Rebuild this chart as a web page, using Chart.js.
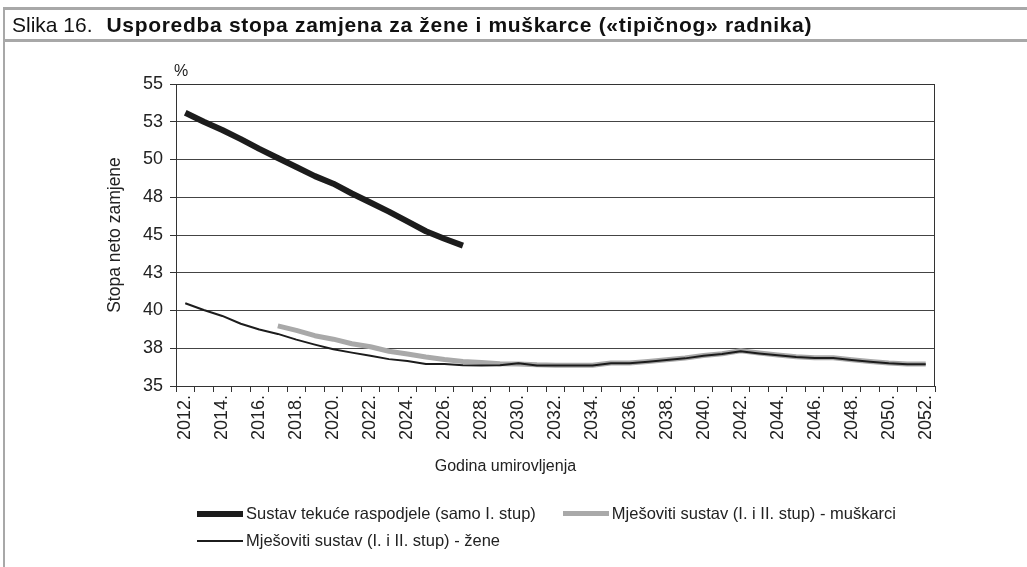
<!DOCTYPE html>
<html>
<head>
<meta charset="utf-8">
<script src="https://cdn.jsdelivr.net/npm/chart.js@4.4.0/dist/chart.umd.min.js"></script>
<style>
  body { margin: 0; background: #fff; font-family: "Liberation Sans", Arial, sans-serif; }
  #wrap { position: relative; width: 1027px; height: 567px; overflow: hidden; }
  #chart { position: absolute; left: 0; top: 0; }
  .rule { position: absolute; background: #a8a8a8; }
  #title { position: absolute; left: 12px; top: 13px; font-size: 21px; color: #111; white-space: nowrap; }
  #title b { letter-spacing: 0.7px; margin-left: 8px; }
  #legend { position: absolute; left: 197px; top: 500px; width: 730px; display: flex; flex-wrap: wrap;
            font-size: 16.5px; line-height: 27px; color: #222; }
  .item { display: flex; align-items: center; margin-right: 27px; }
  .swatch { width: 46px; margin-right: 3px; }
</style>
</head>
<body>
<div id="wrap">
  <canvas id="chart" width="1027" height="567"></canvas>
  <div class="rule" style="left:3px;top:7px;right:0;height:3px"></div>
  <div class="rule" style="left:3px;top:39px;right:0;height:3px"></div>
  <div class="rule" style="left:3px;top:7px;width:2px;bottom:0"></div>
  <div id="title">Slika 16. <b>Usporedba stopa zamjena za žene i muškarce («tipičnog» radnika)</b></div>
  <div id="legend"></div>
</div>
<script>
const years = [
  "2012", "2013", "2014", "2015", "2016", "2017", "2018", "2019", "2020", "2021",
  "2022", "2023", "2024", "2025", "2026", "2027", "2028", "2029", "2030", "2031",
  "2032", "2033", "2034", "2035", "2036", "2037", "2038", "2039", "2040", "2041",
  "2042", "2043", "2044", "2045", "2046", "2047", "2048", "2049", "2050", "2051", "2052"
];

// Sustav tekuće raspodjele (samo I. stup)
const paygRate = [
  53.1, 52.5, 51.95, 51.35, 50.7, 50.1, 49.5, 48.9, 48.4, 47.75,
  47.15, 46.55, 45.9, 45.25, 44.75, 44.3, null, null, null, null,
  null, null, null, null, null, null, null, null, null, null,
  null, null, null, null, null, null, null, null, null, null, null
];

// Mješoviti sustav (I. i II. stup) - muškarci
const mixedMen = [
  null, null, null, null, null, 38.98, 38.68, 38.33, 38.1, 37.8,
  37.6, 37.3, 37.12, 36.92, 36.75, 36.62, 36.55, 36.48, 36.46, 36.4,
  36.37, 36.37, 36.38, 36.52, 36.52, 36.62, 36.74, 36.85, 37.02, 37.14,
  37.33, 37.18, 37.05, 36.94, 36.87, 36.87, 36.74, 36.62, 36.52, 36.46, 36.46
];

// Mješoviti sustav (I. i II. stup) - žene
const mixedWomen = [
  40.48, 40.03, 39.64, 39.12, 38.74, 38.45, 38.07, 37.74, 37.43, 37.21,
  37.0, 36.78, 36.65, 36.46, 36.45, 36.37, 36.36, 36.37, 36.5, 36.35,
  36.35, 36.35, 36.36, 36.5, 36.5, 36.6, 36.72, 36.83, 37.0, 37.12,
  37.3, 37.16, 37.03, 36.92, 36.85, 36.85, 36.72, 36.6, 36.5, 36.44, 36.44
];

const yTickValues = [35, 37.5, 40, 42.5, 45, 47.5, 50, 52.5, 55];
const yTickLabels = ["35", "38", "40", "43", "45", "48", "50", "53", "55"];

const FONT = '"Liberation Sans", Arial, sans-serif';

// okvir grafa, postotak i naslov x osi
const extras = {
  id: "extras",
  beforeDatasetsDraw(chart) {
    const { ctx, chartArea: a } = chart;
    const top = Math.round(a.top) + 0.5;
    const right = Math.round(a.right) - 0.5;
    ctx.save();
    ctx.strokeStyle = "#333";
    ctx.lineWidth = 1;
    ctx.beginPath();
    ctx.moveTo(a.left, top);
    ctx.lineTo(right, top);
    ctx.lineTo(right, a.bottom);
    ctx.stroke();
    ctx.restore();
  },
  afterDraw(chart) {
    const { ctx, chartArea: a } = chart;
    ctx.save();
    ctx.fillStyle = "#222";
    ctx.font = "16px " + FONT;
    ctx.textAlign = "center";
    ctx.textBaseline = "middle";
    ctx.fillText("%", a.left + 5, a.top - 12);
    ctx.fillText("Godina umirovljenja", a.left + (a.right - a.left) * 0.434, a.bottom + 81);
    ctx.restore();
  }
};

const chart = new Chart(document.getElementById("chart"), {
  type: "line",
  data: {
    labels: years,
    datasets: [
      { label: "Sustav tekuće raspodjele (samo I. stup)", data: paygRate,
        borderColor: "#1c1c1c", borderWidth: 6, order: 0 },
      { label: "Mješoviti sustav (I. i II. stup) - muškarci", data: mixedMen,
        borderColor: "#a9a9a9", borderWidth: 5, order: 2 },
      { label: "Mješoviti sustav (I. i II. stup) - žene", data: mixedWomen,
        borderColor: "#1c1c1c", borderWidth: 2, order: 1 }
    ]
  },
  options: {
    responsive: false,
    animation: false,
    layout: { padding: { left: 101, right: 92, top: 84, bottom: 81 } },
    elements: {
      point: { radius: 0 },
      line: { tension: 0, borderJoinStyle: "round", fill: false }
    },
    plugins: { legend: { display: false }, tooltip: { enabled: false } },
    scales: {
      x: {
        offset: true,
        afterFit: (scale) => { scale.height = 100; },
        grid: { offset: true, drawOnChartArea: false, tickLength: 6, tickColor: "#333" },
        border: { color: "#333" },
        ticks: {
          autoSkip: false, minRotation: 90, maxRotation: 90, padding: 3,
          color: "#222", font: { family: FONT, size: 18 },
          callback: function (value, index) {
            return index % 2 === 0 ? this.getLabelForValue(value) + "." : "";
          }
        }
      },
      y: {
        min: 35,
        max: 55,
        afterFit: (scale) => { scale.width = 75; },
        afterBuildTicks: (scale) => { scale.ticks = yTickValues.map((v) => ({ value: v })); },
        grid: { color: "#444", borderDash: [1, 1], tickLength: 6, tickColor: "#333" },
        border: { color: "#333" },
        ticks: {
          padding: 7, color: "#222", font: { family: FONT, size: 18 },
          callback: (value, index) => yTickLabels[index]
        },
        title: { display: true, text: "Stopa neto zamjene", color: "#222", font: { family: FONT, size: 17.5 } }
      }
    }
  },
  plugins: [extras]
});

const legend = document.getElementById("legend");
chart.data.datasets.forEach((ds) => {
  const item = document.createElement("div");
  item.className = "item";
  item.innerHTML = `<span class="swatch" style="height:${ds.borderWidth}px;background:${ds.borderColor}"></span>${ds.label}`;
  legend.appendChild(item);
});
</script>
</body>
</html>
